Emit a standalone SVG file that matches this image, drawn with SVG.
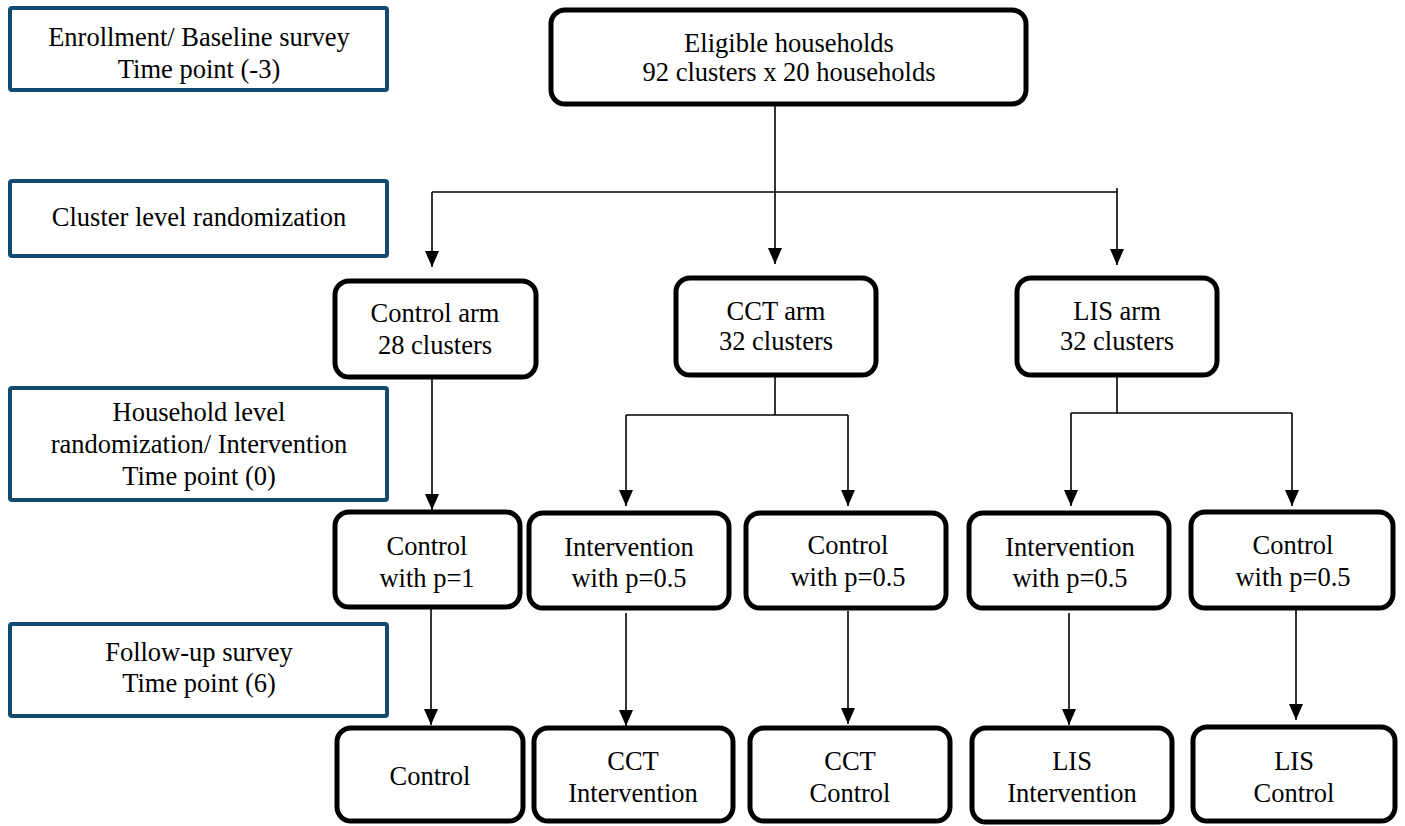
<svg xmlns="http://www.w3.org/2000/svg" width="1405" height="826" viewBox="0 0 1405 826">
<style>
.lbl{fill:#fff;stroke:#134a72;stroke-width:4}
.node{fill:#fff;stroke:#000;stroke-width:5}
text{font-family:'Liberation Serif','Times New Roman',Tinos,'DejaVu Serif',serif;font-size:26.5px;fill:#000;text-anchor:middle}
.con{fill:none;stroke:#000;stroke-width:1.6}
</style>
<defs>
<marker id="ah" markerUnits="userSpaceOnUse" viewBox="0 0 16 14" refX="16" refY="7" markerWidth="16" markerHeight="14" orient="auto">
<path d="M0,0 L16,7 L0,14 z" fill="#000"/>
</marker>
</defs>
<g id="label-enrollment"><rect class="lbl" x="10" y="8" width="377" height="82" rx="2"/><text x="199" y="46">Enrollment/ Baseline survey</text><text x="199" y="78">Time point (-3)</text></g>
<g id="label-cluster"><rect class="lbl" x="10" y="181" width="377" height="75" rx="2"/><text x="199" y="226">Cluster level randomization</text></g>
<g id="label-household"><rect class="lbl" x="10" y="388" width="377" height="112" rx="2"/><text x="199" y="421">Household level</text><text x="199" y="453">randomization/ Intervention</text><text x="199" y="485">Time point (0)</text></g>
<g id="label-followup"><rect class="lbl" x="10" y="624" width="377" height="92" rx="2"/><text x="199" y="661">Follow-up survey</text><text x="199" y="692">Time point (6)</text></g>

<g id="connectors">
<path class="con" d="M775,104 V264" marker-end="url(#ah)"/>
<path class="con" d="M432,192 H1117"/>
<path class="con" d="M432,192 V267" marker-end="url(#ah)"/>
<path class="con" d="M1117,188 V265" marker-end="url(#ah)"/>
<path class="con" d="M432,377 V510" marker-end="url(#ah)"/>
<path class="con" d="M775,375 V415"/>
<path class="con" d="M626,415 H848"/>
<path class="con" d="M626,415 V506" marker-end="url(#ah)"/>
<path class="con" d="M848,415 V506" marker-end="url(#ah)"/>
<path class="con" d="M1117,375 V413"/>
<path class="con" d="M1071,413 H1292"/>
<path class="con" d="M1071,413 V506" marker-end="url(#ah)"/>
<path class="con" d="M1292,413 V506" marker-end="url(#ah)"/>
<path class="con" d="M431,607 V725" marker-end="url(#ah)"/>
<path class="con" d="M626,613 V726" marker-end="url(#ah)"/>
<path class="con" d="M848,611 V724" marker-end="url(#ah)"/>
<path class="con" d="M1069,613 V725" marker-end="url(#ah)"/>
<path class="con" d="M1296,609 V720" marker-end="url(#ah)"/>
</g>

<g id="eligible"><rect class="node" x="551" y="10" width="475" height="94" rx="14"/><text x="789" y="52">Eligible households</text><text x="789" y="81">92 clusters x 20 households</text></g>

<g id="control-arm"><rect class="node" x="335" y="281" width="201" height="96" rx="14"/><text x="435" y="322">Control arm</text><text x="435" y="354">28 clusters</text></g>
<g id="cct-arm"><rect class="node" x="676" y="278" width="200" height="97" rx="14"/><text x="776" y="320">CCT arm</text><text x="776" y="350">32 clusters</text></g>
<g id="lis-arm"><rect class="node" x="1017" y="278" width="200" height="97" rx="14"/><text x="1117" y="320">LIS arm</text><text x="1117" y="350">32 clusters</text></g>

<g id="control-p1"><rect class="node" x="335" y="512" width="185" height="95" rx="14"/><text x="427" y="555">Control</text><text x="427" y="587">with p=1</text></g>
<g id="cct-int-p"><rect class="node" x="529" y="513" width="200" height="95" rx="14"/><text x="629" y="556">Intervention</text><text x="629" y="587">with p=0.5</text></g>
<g id="cct-ctl-p"><rect class="node" x="746" y="513" width="200" height="95" rx="14"/><text x="848" y="554">Control</text><text x="848" y="586">with p=0.5</text></g>
<g id="lis-int-p"><rect class="node" x="969" y="513" width="200" height="95" rx="14"/><text x="1070" y="556">Intervention</text><text x="1070" y="587">with p=0.5</text></g>
<g id="lis-ctl-p"><rect class="node" x="1191" y="512" width="202" height="96" rx="14"/><text x="1293" y="554">Control</text><text x="1293" y="586">with p=0.5</text></g>

<g id="control-final"><rect class="node" x="337" y="728" width="186" height="93" rx="14"/><text x="430" y="785">Control</text></g>
<g id="cct-int"><rect class="node" x="534" y="728" width="199" height="93" rx="14"/><text x="633" y="770">CCT</text><text x="633" y="802">Intervention</text></g>
<g id="cct-ctl"><rect class="node" x="750" y="728" width="200" height="93" rx="14"/><text x="850" y="770">CCT</text><text x="850" y="802">Control</text></g>
<g id="lis-int"><rect class="node" x="972" y="728" width="200" height="94" rx="14"/><text x="1072" y="770">LIS</text><text x="1072" y="802">Intervention</text></g>
<g id="lis-ctl"><rect class="node" x="1193" y="727" width="202" height="94" rx="14"/><text x="1294" y="770">LIS</text><text x="1294" y="802">Control</text></g>
</svg>
